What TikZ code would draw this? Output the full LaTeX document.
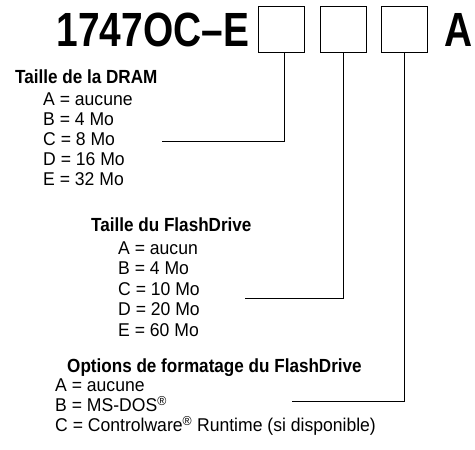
\documentclass[tikz,border=0pt]{standalone}
\usepackage{fontspec}
\setmainfont{Liberation Sans}
\newfontfamily\titlefont[FakeStretch=0.81]{Liberation Sans}
\newfontfamily\headfont[FakeStretch=0.9]{Liberation Sans}
\newfontfamily\itemfont[FakeStretch=0.95]{Liberation Sans}
\begin{document}
\begin{tikzpicture}[x=1pt,y=-1pt,
  item/.style={anchor=base west, inner sep=0pt, font=\itemfont\fontsize{18.5}{20}\selectfont},
  head/.style={anchor=base west, inner sep=0pt, font=\headfont\fontsize{19}{20}\selectfont\bfseries},
  bigtitle/.style={anchor=base west, inner sep=0pt, font=\titlefont\fontsize{48}{50}\selectfont\bfseries},
  slot/.style={draw, line width=1pt, minimum width=46pt, minimum height=46pt, inner sep=0pt, anchor=north west},
  link/.style={line width=1pt}]
\useasboundingbox (0,0) rectangle (475,450);
% title
\node[bigtitle] (t) at (56.5,46) {1747OC–E};
\node[bigtitle] (ta) at (444,46) {A};
\node[slot] (b1) at (257.8,6.2) {};
\node[slot] (b2) at (319.8,6.2) {};
\node[slot] (b3) at (381.2,6.2) {};
% DRAM
\node[head] (dh) at (15,83.5) {Taille de la DRAM};
\node[item] (d1) at (43,105.5) {A = aucune};
\node[item] (d2) at (43,125.5) {B = 4 Mo};
\node[item] (d3) at (43,145.5) {C = 8 Mo};
\node[item] (d4) at (43,165.5) {D = 16 Mo};
\node[item] (d5) at (43,185.5) {E = 32 Mo};
% FlashDrive
\node[head] (fh) at (91,231.7) {Taille du FlashDrive};
\node[item] (f1) at (118,254) {A = aucun};
\node[item] (f2) at (118,274.5) {B = 4 Mo};
\node[item] (f3) at (118,295) {C = 10 Mo};
\node[item] (f4) at (118,315.5) {D = 20 Mo};
\node[item] (f5) at (118,336) {E = 60 Mo};
% Options
\node[head] (oh) at (67,372) {Options de formatage du FlashDrive};
\node[item] (o1) at (55,391.7) {A = aucune};
\node[item] (o2) at (55,411.7) {B = MS-DOS\textsuperscript{®}};
\node[item] (o3) at (55,431.7) {C = Controlware\textsuperscript{®} Runtime (si disponible)};
% connectors
\coordinate (e1) at (162,141.7);
\coordinate (e2) at (245,298.3);
\coordinate (e3) at (291.7,401.5);
\draw[link] ([xshift=3.3pt]b1.south) |- (e1);
\draw[link] (b2.south) |- (e2);
\draw[link] (b3.south) |- (e3);
\end{tikzpicture}
\end{document}
